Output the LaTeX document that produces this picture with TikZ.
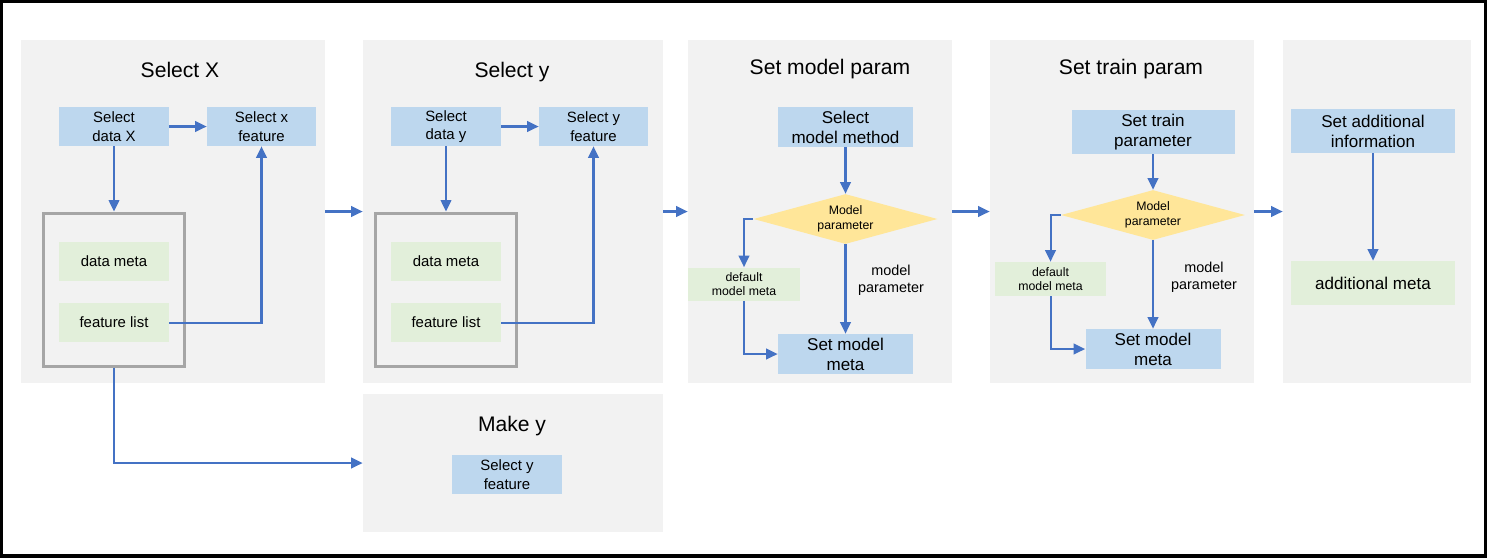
\documentclass[tikz,border=0pt]{standalone}
\usepackage{fontspec}
\setmainfont{Liberation Sans}
\usetikzlibrary{arrows.meta,positioning,shapes.geometric}
\definecolor{panelgray}{RGB}{242,242,242}
\definecolor{boxblue}{RGB}{189,215,238}
\definecolor{boxgreen}{RGB}{226,239,218}
\definecolor{diayellow}{RGB}{255,230,153}
\definecolor{framegray}{RGB}{166,166,166}
\definecolor{flowblue}{RGB}{68,114,196}

\begin{document}
\begin{tikzpicture}[
    x=0.02cm, y=-0.02cm,
    every node/.style={inner sep=0pt, align=center},
    sized/.style 2 args={minimum width=#1*0.02cm, minimum height=#2*0.02cm},
    panel/.style={
        rectangle,
        fill=panelgray
    },
    title/.style={font=\fontsize{12}{14}\selectfont, anchor=base},
    small/.style={font=\fontsize{8.5}{10.5}\selectfont},
    large/.style={font=\fontsize{9.7}{11.4}\selectfont},
    note/.style={font=\fontsize{7}{8.4}\selectfont},
    bluebox/.style={fill=boxblue},
    greenbox/.style={fill=boxgreen},
    decision/.style={
        diamond,
        aspect=3.7,
        fill=diayellow,
        sized={184}{50},
        font=\fontsize{7}{8.5}\selectfont
    },
    frame/.style={draw=framegray, line width=1.7pt},
    paramlabel/.style={font=\fontsize{8.2}{9.5}\selectfont},
    flow/.style={
        -{Triangle[length=6.5pt,width=6pt]},
        draw=flowblue,
        line width=1.15pt
    }
]

    \useasboundingbox (0,0) rectangle (1488,559);

    % Panels
    \node[panel, sized={304}{343}] (pX) at (173,211.5) {};
    \node[panel, sized={300}{343}] (pY) at (513,211.5) {};
    \node[panel, sized={264}{343}] (pM) at (820,211.5) {};
    \node[panel, sized={264}{343}] (pT) at (1122,211.5) {};
    \node[panel, sized={188}{343}] (pA) at (1377,211.5) {};
    \node[panel, sized={300}{138}] (pMake) at (513,463) {};

    % Titles
    \node[title] (tX) at (180,77) {Select X};
    \node[title] (tY) at (512,77) {Select y};
    \node[title] (tM) at (830,74) {Set model param};
    \node[title] (tT) at (1131,74) {Set train param};
    \node[title] (tMake) at (512,431) {Make y};

    % Select X
    \node[bluebox, sized={110}{39}, small] (dataX) at (114,126.5) {Select\\data X};
    \node[bluebox, sized={109}{39}, small] (featX) at (261.5,126.5) {Select x\\feature};
    \node[frame, sized={141}{153}] (frameX) at (114,289.5) {};
    \node[greenbox, sized={110}{39}, small] (metaX) at (114,261.5) {data meta};
    \node[greenbox, sized={110}{39}, small] (listX) at (114,322.5) {feature list};

    % Select y
    \node[bluebox, sized={110}{39}, small] (dataY) at (446,126.5) {Select\\data y};
    \node[bluebox, sized={109}{39}, small] (featY) at (593.5,126.5) {Select y\\feature};
    \node[frame, sized={141}{153}] (frameY) at (446,289.5) {};
    \node[greenbox, sized={110}{39}, small] (metaY) at (446,261.5) {data meta};
    \node[greenbox, sized={110}{39}, small] (listY) at (446,322.5) {feature list};

    % Set model param
    \node[bluebox, sized={135}{40}, large] (methM) at (845.5,127) {Select\\model method};
    \node[decision] (diaM) at (845.5,219) {Model\\parameter};
    \node[greenbox, sized={112}{33}, note] (defM) at (744,284) {default\\model meta};
    \node[bluebox, sized={135}{40}, large] (setM) at (845.5,354) {Set model\\meta};
    \node[paramlabel] (parM) at (891,280) {model\\parameter};

    % Set train param
    \node[bluebox, sized={163}{44}, large] (setT) at (1153,132) {Set train\\parameter};
    \node[decision] (diaT) at (1153,215) {Model\\parameter};
    \node[greenbox, sized={111}{34}, note] (defT) at (1050.5,279) {default\\model meta};
    \node[bluebox, sized={135}{40}, large] (metaT) at (1153,349) {Set model\\meta};
    \node[paramlabel] (parT) at (1204,277) {model\\parameter};

    % Additional information
    \node[bluebox, sized={164}{44}, large] (infoA) at (1373,131) {Set additional\\information};
    \node[greenbox, sized={164}{44}, large] (metaA) at (1373,283) {additional meta};

    % Make y
    \node[bluebox, sized={110}{39}, small] (featMake) at (507,474.5) {Select y\\feature};

    % Arrows inside panels
    \draw[flow] (dataX) -- (featX);
    \draw[flow] (dataX) -- (frameX);
    \draw[flow] (listX.east) -| (featX.south);
    \draw[flow] (dataY) -- (featY);
    \draw[flow] (dataY) -- (frameY);
    \draw[flow] (listY.east) -| (featY.south);

    \draw[flow] (methM) -- (diaM);
    \draw[flow] (diaM.west) -| (defM.north);
    \draw[flow] (diaM) -- (setM);
    \draw[flow] (defM.south) |- (setM.west);

    \draw[flow] (setT) -- (diaT);
    \draw[flow] (diaT.west) -| (defT.north);
    \draw[flow] (diaT) -- (metaT);
    \draw[flow] (defT.south) |- (metaT.west);

    \draw[flow] (infoA) -- (metaA);

    % Arrows between panels
    \foreach \a/\b in {pX/pY, pY/pM, pM/pT, pT/pA}
        \draw[flow] (\a) -- (\b);
    \draw[flow] (frameX.south) |- (pMake.west);

    % Outer border
    \draw[line width=2pt] (1.5,1.5) rectangle (1485.5,556);

\end{tikzpicture}
\end{document}
